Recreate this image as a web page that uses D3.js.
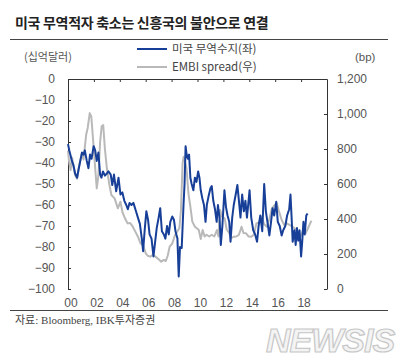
<!DOCTYPE html>
<html>
<head>
<meta charset="utf-8">
<script src="https://cdn.jsdelivr.net/npm/d3@7"></script>
<style>
html,body{margin:0;padding:0;background:#fff;}
svg{display:block;}
</style>
</head>
<body>
<script>
// ---- data ----
const tradeDates = [2000.00,2000.10,2000.18,2000.30,2000.42,2000.55,2000.70,2000.82,2000.95,2001.08,2001.20,2001.30,2001.45,2001.58,2001.70,2001.82,2001.98,2002.10,2002.22,2002.35,2002.48,2002.58,2002.70,2002.85,2003.00,2003.12,2003.30,2003.42,2003.55,2003.72,2003.90,2004.05,2004.20,2004.35,2004.50,2004.62,2004.75,2004.90,2005.05,2005.25,2005.40,2005.55,2005.70,2005.80,2005.92,2006.05,2006.18,2006.30,2006.45,2006.60,2006.72,2006.85,2007.00,2007.12,2007.25,2007.40,2007.52,2007.65,2007.78,2007.90,2008.05,2008.18,2008.30,2008.45,2008.55,2008.65,2008.78,2008.92,2009.00,2009.08,2009.16,2009.25,2009.35,2009.45,2009.55,2009.68,2009.80,2009.92,2010.05,2010.15,2010.25,2010.38,2010.50,2010.62,2010.72,2010.85,2011.00,2011.10,2011.22,2011.35,2011.48,2011.58,2011.70,2011.80,2011.92,2012.08,2012.20,2012.32,2012.45,2012.55,2012.68,2012.80,2012.95,2013.08,2013.20,2013.32,2013.45,2013.58,2013.70,2013.82,2014.02,2014.15,2014.30,2014.45,2014.60,2014.72,2014.85,2015.00,2015.15,2015.28,2015.40,2015.55,2015.68,2015.80,2015.92,2016.08,2016.20,2016.35,2016.50,2016.62,2016.78,2016.92,2017.08,2017.18,2017.26,2017.35,2017.48,2017.58,2017.68,2017.78,2017.88,2018.00,2018.08,2018.18,2018.28,2018.40,2018.50];
const tradeValues = [-31,-34,-36,-39,-41,-45,-47,-43,-39,-35,-36,-34,-39,-42.5,-36,-38,-32,-34,-39,-35,-45.5,-47,-44,-46,-45,-44,-45.5,-50.5,-45.5,-53.5,-47,-55,-54,-58,-60,-62,-59,-60,-59,-63,-66,-69,-76,-82,-72,-63,-67,-74,-76,-84.5,-78,-71,-66,-61.5,-72.5,-74,-76,-70,-74,-68,-65.5,-67,-72.5,-76,-94,-80,-80.5,-60,-50,-32,-36,-38,-36,-47,-50,-53,-47,-49,-44,-47,-53,-57,-60,-68,-60,-56,-52,-51,-58,-62,-68,-60,-66,-79,-70,-53,-61,-65,-68,-77.5,-66,-60,-55,-50.5,-58,-66,-55,-63,-58,-66,-53,-66,-72,-74,-77.5,-70,-65,-72.5,-50,-63,-68,-74.5,-68,-61.5,-65,-58.5,-68,-70,-74.5,-72,-70,-65,-62,-55,-65,-77.5,-72,-79,-71,-77,-72,-84.5,-78,-68,-74,-65,-64];

const embiDates = [2000.00,2000.08,2000.20,2000.32,2000.42,2000.55,2000.70,2000.85,2001.05,2001.20,2001.40,2001.52,2001.68,2001.80,2001.95,2002.08,2002.22,2002.35,2002.48,2002.60,2002.72,2002.85,2003.00,2003.20,2003.35,2003.60,2003.85,2004.05,2004.20,2004.40,2004.60,2004.80,2005.00,2005.20,2005.40,2005.60,2005.80,2006.00,2006.15,2006.35,2006.55,2006.75,2007.00,2007.20,2007.40,2007.55,2007.70,2007.85,2008.05,2008.25,2008.45,2008.60,2008.72,2008.85,2008.93,2009.05,2009.15,2009.30,2009.45,2009.60,2009.80,2009.95,2010.10,2010.25,2010.40,2010.55,2010.70,2010.90,2011.10,2011.30,2011.50,2011.62,2011.75,2011.90,2012.10,2012.25,2012.45,2012.60,2012.80,2013.00,2013.20,2013.40,2013.55,2013.75,2013.95,2014.15,2014.35,2014.55,2014.75,2014.95,2015.15,2015.35,2015.55,2015.75,2015.95,2016.12,2016.30,2016.50,2016.70,2016.90,2017.10,2017.35,2017.60,2017.80,2018.00,2018.15,2018.35,2018.55,2018.70,2018.80];
const embiValues = [790,730,680,750,700,650,630,700,770,740,880,920,1005,985,840,710,575,650,840,930,937,800,690,594,537,518,461,499,440,404,375,377,356,328,299,261,250,204,190,185,195,185,170,156,166,160,190,242,260,305,330,347,450,720,755,720,690,547,470,385,356,347,337,285,337,300,310,300,310,300,337,300,451,413,404,340,320,290,299,300,310,356,320,318,300,299,310,375,380,413,370,356,400,461,480,490,442,394,366,375,366,356,340,318,305,337,318,350,375,390];

const leftTicks = [0,-10,-20,-30,-40,-50,-60,-70,-80,-90,-100];
const rightTicks = [0,200,400,600,800,1000,1200];
const yearTicks = [2000,2002,2004,2006,2008,2010,2012,2014,2016,2018];

const titleText = "미국 무역적자 축소는 신흥국의 불안으로 연결";
const seriesNames = ["미국 무역수지(좌)", "EMBI spread(우)"];
const leftUnit = "(십억달러)";
const rightUnit = "(bp)";
const sourceText = "자료: Bloomberg, IBK투자증권";

// ---- drawing ----
const W = 415, H = 360;
const svg = d3.select("body").append("svg").attr("width", W).attr("height", H);
const sans = "'Liberation Sans', Arial, 'Noto Sans CJK KR', sans-serif";
const kr = "'Noto Sans CJK KR', 'Liberation Sans', sans-serif";
const blue = "#173f98", gray = "#b9b9b9";

const x = d3.scaleLinear().domain([2000, 2020]).range([68, 327]);
const yL = d3.scaleLinear().domain([-100, 0]).range([289, 79]);
const yR = d3.scaleLinear().domain([0, 1200]).range([289, 79]);

// title
svg.append("text").attr("x", 15).attr("y", 28).text(titleText)
  .attr("font-family", kr).attr("font-weight", "bold").attr("font-size", 14)
  .attr("letter-spacing", -0.3).attr("fill", "#222");
svg.append("line").attr("x1", 10).attr("x2", 388).attr("y1", 39.5).attr("y2", 39.5)
  .attr("stroke", "#444").attr("stroke-width", 1);
svg.append("line").attr("x1", 10).attr("x2", 388).attr("y1", 310.5).attr("y2", 310.5)
  .attr("stroke", "#444").attr("stroke-width", 1);

// units
svg.append("text").attr("x", 24).attr("y", 61).text(leftUnit)
  .attr("font-family", kr).attr("font-size", 11).attr("fill", "#555");
svg.append("text").attr("x", 355).attr("y", 61).text(rightUnit)
  .attr("font-family", sans).attr("font-size", 11.5).attr("fill", "#555");

// legend
const legend = svg.append("g");
[[blue, 49], [gray, 67]].forEach((c, i) => {
  legend.append("line").attr("x1", 137).attr("x2", 167).attr("y1", c[1]).attr("y2", c[1])
    .attr("stroke", c[0]).attr("stroke-width", 2);
  legend.append("text").attr("x", 172).attr("y", c[1] + 4).text(seriesNames[i])
    .attr("font-family", kr).attr("font-size", 11.5).attr("fill", "#444");
});

function styleAxis(g) {
  g.selectAll("path.domain").attr("stroke", "#333");
  g.selectAll(".tick line").attr("stroke", "#333");
  g.selectAll("text").attr("font-family", sans).attr("font-size", 12).attr("fill", "#555");
}

// left axis
const gL = svg.append("g").attr("transform", "translate(68,0)")
  .call(d3.axisLeft(yL).tickValues(leftTicks).tickSizeInner(-3).tickSizeOuter(0).tickPadding(13));
styleAxis(gL);

// right axis
const gR = svg.append("g").attr("transform", "translate(327,0)")
  .call(d3.axisRight(yR).tickValues(rightTicks).tickSizeInner(-3).tickSizeOuter(0).tickPadding(10).tickFormat(d3.format(",")));
styleAxis(gR);

// top axis (ticks only)
const gT = svg.append("g").attr("transform", "translate(0,79)")
  .call(d3.axisTop(x).tickValues(yearTicks.slice(1)).tickSizeInner(-3).tickSizeOuter(0).tickFormat(""));
styleAxis(gT);

// bottom labels
const gB = svg.append("g").attr("transform", "translate(2.5,289)")
  .call(d3.axisBottom(x).tickValues(yearTicks).tickSize(0).tickPadding(9)
    .tickFormat(d => String(d % 100).padStart(2, "0")));
gB.select("path.domain").remove();
styleAxis(gB);

// series
const embiData = embiDates.map((d, i) => [d, embiValues[i]]);
const tradeData = tradeDates.map((d, i) => [d, tradeValues[i]]);

svg.append("path").datum(embiData)
  .attr("d", d3.line().x(d => x(d[0])).y(d => yR(d[1])))
  .attr("fill", "none").attr("stroke", gray).attr("stroke-width", 2).attr("stroke-linejoin", "round");
svg.append("path").datum(tradeData)
  .attr("d", d3.line().x(d => x(d[0])).y(d => yL(d[1])))
  .attr("fill", "none").attr("stroke", blue).attr("stroke-width", 2).attr("stroke-linejoin", "round");

// source
svg.append("text").attr("x", 15).attr("y", 324).text(sourceText)
  .attr("font-family", "'Liberation Serif', 'Noto Sans CJK KR', serif").attr("font-size", 11).attr("fill", "#444");

// watermark
svg.append("text").attr("x", 266).attr("y", 352).text("NEWSIS")
  .attr("font-family", sans).attr("font-weight", "bold").attr("font-style", "italic")
  .attr("font-size", 34).attr("letter-spacing", -1).attr("fill", "#f4f4f4").attr("stroke", "#c8c8c8").attr("stroke-width", 1.2);
</script>
</body>
</html>
